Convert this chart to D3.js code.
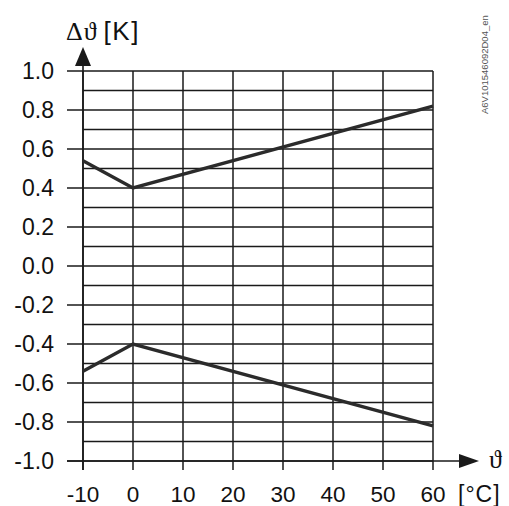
<!DOCTYPE html>
<html><head><meta charset="utf-8">
<script src="https://cdn.jsdelivr.net/npm/d3@7"></script>
<style>body{margin:0;background:#fff}svg{display:block}</style>
</head><body>
<script>
const xTicks = [-10, 0, 10, 20, 30, 40, 50, 60];
const yTicks = [-1.0, -0.8, -0.6, -0.4, -0.2, 0.0, 0.2, 0.4, 0.6, 0.8, 1.0];
const yGrid = d3.range(-10, 11).map(d => d / 10);
const upperX = [-10, 0, 60];
const upperY = [0.54, 0.40, 0.82];
const lowerX = [-10, 0, 60];
const lowerY = [-0.54, -0.40, -0.82];
const docId = "A6V101546092D04_en";

const W = 509, H = 506;
const svg = d3.select("body").append("svg").attr("width", W).attr("height", H);
const x = d3.scaleLinear().domain([-10, 60]).range([83, 433]);
const y = d3.scaleLinear().domain([-1, 1]).range([461, 71]);
const ink = "#1a1a1a";
const sans = "Liberation Sans, Arial, Helvetica, sans-serif";
const serif = "Liberation Serif, DejaVu Serif, serif";

// horizontal grid
svg.append("g").selectAll("line").data(yGrid).join("line")
  .attr("x1", d => (Math.round(d * 10) % 2 === 0) ? 67 : x(-10))
  .attr("x2", x(60))
  .attr("y1", d => y(d)).attr("y2", d => y(d))
  .attr("stroke", ink).attr("stroke-width", 1.5);

// vertical grid
svg.append("g").selectAll("line").data(xTicks).join("line")
  .attr("x1", d => x(d)).attr("x2", d => x(d))
  .attr("y1", y(1)).attr("y2", 470)
  .attr("stroke", ink).attr("stroke-width", 1.5);

// y axis extension + arrow
svg.append("line").attr("x1", x(-10)).attr("x2", x(-10)).attr("y1", 62).attr("y2", 470)
  .attr("stroke", ink).attr("stroke-width", 1.6);
svg.append("path").attr("d", `M${x(-10)},47 L${x(-10)-8},66 L${x(-10)+8},66 Z`).attr("fill", ink);

// x axis extension + arrow
svg.append("line").attr("x1", 67).attr("x2", 462).attr("y1", y(-1)).attr("y2", y(-1))
  .attr("stroke", ink).attr("stroke-width", 1.6);
svg.append("path").attr("d", `M479,${y(-1)} L459,${y(-1)-7} L459,${y(-1)+7} Z`).attr("fill", ink);

// data lines
const line = d3.line().x(d => x(d[0])).y(d => y(d[1]));
[[upperX, upperY], [lowerX, lowerY]].forEach(([xs, ys]) => {
  svg.append("path").datum(xs.map((v, i) => [v, ys[i]]))
    .attr("d", line).attr("fill", "none").attr("stroke", "#2b2b2b")
    .attr("stroke-width", 3.4).attr("stroke-linejoin", "miter");
});

// y tick labels
svg.append("g").selectAll("text").data(yTicks).join("text")
  .attr("x", 54).attr("y", d => y(d)).attr("dy", "0.36em")
  .attr("text-anchor", "end")
  .attr("font-family", sans).attr("font-size", 23)
  .attr("fill", "#111")
  .text(d => d3.format(".1f")(d).replace("−", "-"));

// x tick labels
svg.append("g").selectAll("text").data(xTicks).join("text")
  .attr("x", d => x(d)).attr("y", 502)
  .attr("text-anchor", "middle")
  .attr("font-family", sans).attr("font-size", 22.5)
  .attr("fill", "#111")
  .text(d => String(d));

// axis titles
const yt = svg.append("text").attr("x", 66).attr("y", 40)
  .attr("font-family", sans).attr("font-size", 26).attr("fill", "#111");
yt.append("tspan").attr("font-family", serif).attr("letter-spacing", 1).text("Δϑ");
yt.append("tspan").attr("dx", 6).attr("letter-spacing", 1.5).text("[K]");

svg.append("text").attr("x", 489).attr("y", 468)
  .attr("font-family", serif).attr("font-size", 26).attr("fill", "#111")
  .text("ϑ");
svg.append("text").attr("x", 458).attr("y", 502)
  .attr("font-family", sans).attr("font-size", 23).attr("fill", "#111")
  .attr("letter-spacing", 1)
  .text("[°C]");

// doc id
svg.append("text").attr("transform", "translate(488,114) rotate(-90)")
  .attr("font-family", sans).attr("font-size", 9.5).attr("fill", "#555")
  .text(docId);
</script>
</body></html>
